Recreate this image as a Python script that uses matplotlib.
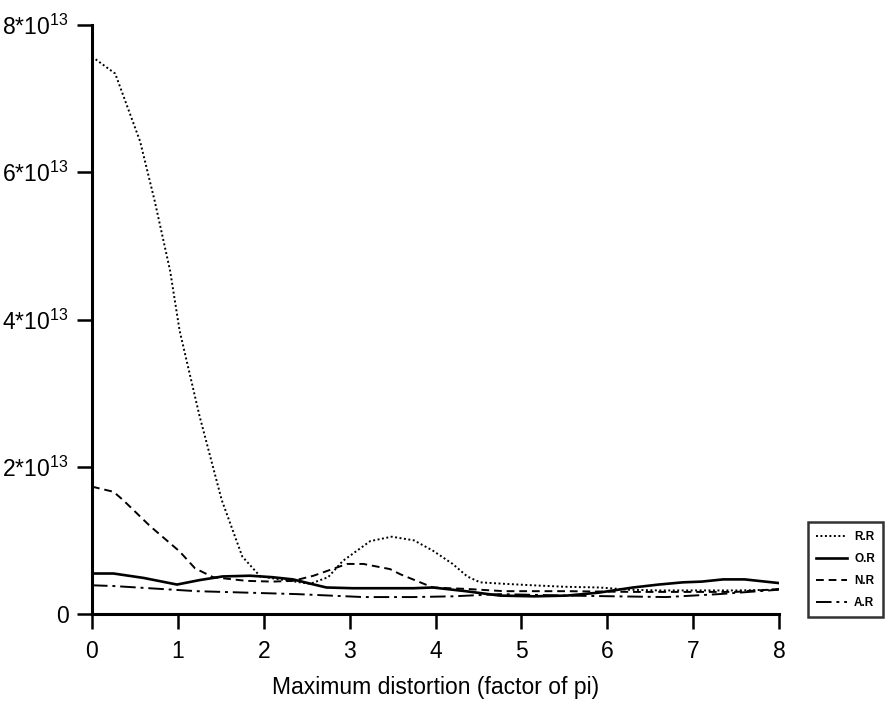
import matplotlib
matplotlib.use("Agg")
import matplotlib.pyplot as plt
import numpy as np

plt.rcParams['font.family'] = ['Liberation Sans', 'DejaVu Sans']
plt.rcParams['mathtext.fontset'] = 'custom'
plt.rcParams['mathtext.rm'] = 'Liberation Sans'
plt.rcParams['mathtext.it'] = 'Liberation Sans:italic'
plt.rcParams['mathtext.bf'] = 'Liberation Sans:bold'

SCALE = 1e13

# R.R series
rr_x = [0, 0.27, 0.56, 0.73, 0.91, 1.02, 1.25, 1.51, 1.75, 1.96, 2.25, 2.54, 2.75,
        2.92, 3.24, 3.49, 3.75, 3.97, 4.2, 4.37, 4.52, 4.8, 5.13, 5.5, 5.91, 6.25,
        6.6, 7.0, 7.5, 8.0]
rr_y = [7.57, 7.34, 6.42, 5.61, 4.66, 3.85, 2.7, 1.55, 0.78, 0.51, 0.46, 0.41, 0.5,
        0.72, 0.99, 1.05, 1.0, 0.86, 0.68, 0.51, 0.43, 0.41, 0.39, 0.37, 0.36, 0.33,
        0.32, 0.32, 0.32, 0.33]

# O.R series
or_x = [0, 0.25, 0.6, 0.99, 1.25, 1.52, 1.84, 2.1, 2.34, 2.55, 2.73, 3.04, 3.4,
        3.74, 3.97, 4.35, 4.75, 5.15, 5.53, 5.9, 6.3, 6.6, 6.88, 7.1, 7.35, 7.6, 8.0]
or_y = [0.55, 0.55, 0.49, 0.40, 0.46, 0.51, 0.52, 0.50, 0.47, 0.41, 0.36, 0.35, 0.35,
        0.35, 0.36, 0.31, 0.25, 0.24, 0.25, 0.29, 0.36, 0.40, 0.43, 0.44, 0.47, 0.47, 0.42]

# N.R series
nr_x = [0, 0.25, 0.36, 0.68, 1.02, 1.2, 1.41, 1.8, 2.1, 2.34, 2.58, 2.97, 3.16,
        3.47, 3.59, 3.97, 4.37, 4.8, 5.53, 6.3, 7.0, 7.5, 8.0]
nr_y = [1.73, 1.66, 1.55, 1.19, 0.85, 0.62, 0.50, 0.45, 0.44, 0.45, 0.52, 0.68, 0.68,
        0.61, 0.54, 0.36, 0.34, 0.31, 0.31, 0.30, 0.30, 0.30, 0.34]

# A.R series
ar_x = [0, 0.25, 1.22, 2.39, 3.16, 3.74, 4.2, 4.75, 5.53, 6.1, 6.69, 7.3, 8.0]
ar_y = [0.39, 0.38, 0.31, 0.27, 0.23, 0.23, 0.24, 0.27, 0.25, 0.24, 0.23, 0.27, 0.33]

x_ticks = [0, 1, 2, 3, 4, 5, 6, 7, 8]
y_ticks = [0, 2e13, 4e13, 6e13, 8e13]
y_tick_labels = ['0', '2*10$^{13}$', '4*10$^{13}$', '6*10$^{13}$', '8*10$^{13}$']
x_label = 'Maximum distortion (factor of pi)'

fig = plt.figure(figsize=(8.91, 7.05), dpi=100)
ax = fig.add_axes([92 / 891, 1 - 614 / 705, (779 - 92) / 891, (614 - 25) / 705])

lw = 1.4
ax.plot(rr_x, np.array(rr_y) * SCALE, color='black', lw=lw, linestyle=(0, (1, 1.3)), label='R.R')
ax.plot(or_x, np.array(or_y) * SCALE, color='black', lw=lw + 0.5, linestyle='-', label='O.R')
ax.plot(nr_x, np.array(nr_y) * SCALE, color='black', lw=lw, linestyle=(0, (4, 2.5)), label='N.R')
ax.plot(ar_x, np.array(ar_y) * SCALE, color='black', lw=lw, linestyle=(0, (8, 2.5, 1.5, 2.5)), label='A.R')

ax.set_xlim(0, 8)
ax.set_ylim(0, 8e13)
ax.set_xticks(x_ticks)
ax.set_xticklabels([str(t) for t in x_ticks])
ax.set_yticks(y_ticks)
ax.set_yticklabels(y_tick_labels)

for side in ('top', 'right'):
    ax.spines[side].set_visible(False)
for side in ('left', 'bottom'):
    ax.spines[side].set_linewidth(2.2)
ax.tick_params(axis='both', direction='out', length=11, width=1.8, labelsize=16.5,
               colors='black')
ax.tick_params(axis='x', pad=8)
ax.tick_params(axis='y', pad=6)
ax.set_xlabel(x_label, fontsize=16.5, labelpad=9)

leg = fig.legend(loc='lower left', bbox_to_anchor=(808 / 891, 1 - 617 / 705),
                 prop={'size': 8.5, 'weight': 'bold'}, frameon=True, fancybox=False,
                 handlelength=2.6, handletextpad=0.6, labelspacing=0.85,
                 borderpad=0.7, borderaxespad=0)
leg.get_frame().set_edgecolor('black')
leg.get_frame().set_linewidth(1.8)

fig.savefig('out.png', dpi=100)
